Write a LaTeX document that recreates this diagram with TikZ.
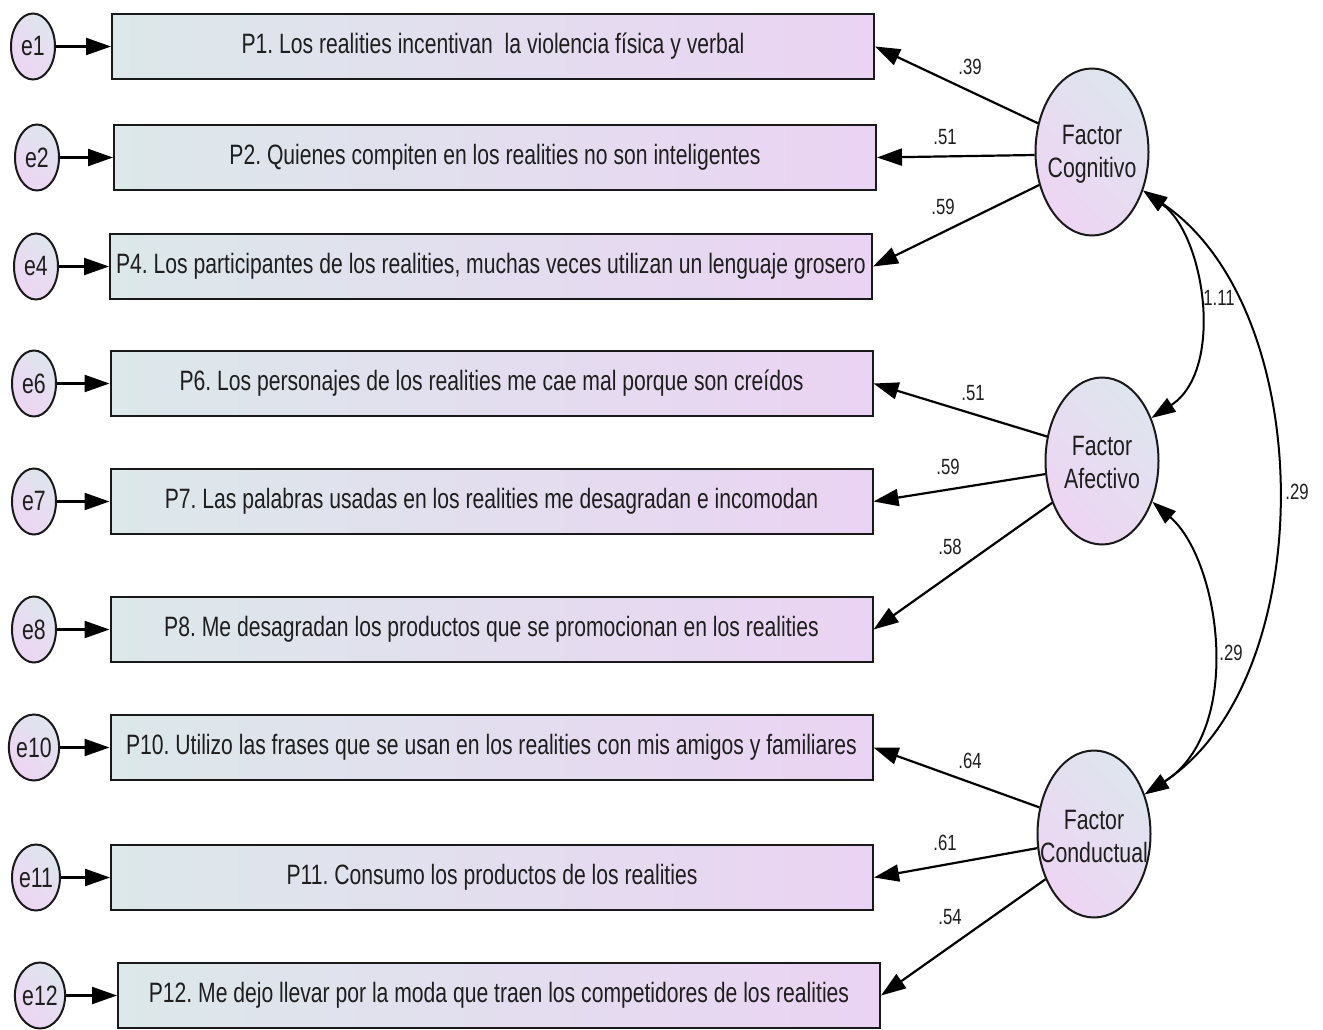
\documentclass[tikz,border=0pt]{standalone}
\usepackage{fontspec}
\setmainfont{Liberation Sans}
\usetikzlibrary{shapes.geometric,arrows.meta}
\definecolor{boxL}{HTML}{DCE8EA}
\definecolor{boxR}{HTML}{EAD3F3}
\definecolor{ellL}{HTML}{DFE5EE}
\definecolor{ellR}{HTML}{EDD5F3}
\definecolor{txt}{HTML}{1E1E1E}
\frenchspacing
\newcommand\nx[1]{\scalebox{0.76}[1]{#1}}
\newcommand\bx[1]{\raisebox{-2.5pt}{\scalebox{0.755}[1]{#1}}}
\begin{document}
\begin{tikzpicture}[x=1pt,y=-1pt,
  itembox/.style={draw=black!90, line width=2pt, left color=boxL, right color=boxR,
    minimum width=762pt, minimum height=65pt, inner sep=0pt, text=txt,
    font=\fontsize{28}{32}\selectfont},
  errnode/.style={ellipse, draw=black!90, line width=2pt, shading=axis, top color=ellL, bottom color=ellR,
    shading angle=-45, minimum width=44pt, minimum height=66pt, inner sep=0pt, text=txt,
    font=\fontsize{28}{30}\selectfont},
  factor/.style={ellipse, draw=black!90, line width=2pt, shading=axis, top color=ellL, bottom color=ellR,
    shading angle=-45, minimum width=113pt, minimum height=167pt, inner sep=0pt},
  factortext/.style={text=txt, align=center, inner sep=0pt, font=\fontsize{28}{33}\selectfont},
  coef/.style={text=txt, inner sep=0pt, font=\fontsize{22}{24}\selectfont},
  arr/.style={line width=2.2pt, -{Triangle[length=25pt,width=17pt]}},
  cov/.style={line width=2pt, {Triangle[length=24pt,width=16pt]}-{Triangle[length=24pt,width=16pt]}}
]
\useasboundingbox (0,0) rectangle (1323,1030);

% items
\node[itembox] (P1) at (493,46.5) {\bx{P1. Los realities incentivan\ \ la violencia física y verbal}};
\node[itembox] (P2) at (495,157.5) {\bx{P2. Quienes compiten en los realities no son inteligentes}};
\node[itembox] (P4) at (491,266.5) {\bx{P4. Los participantes de los realities, muchas veces utilizan un lenguaje grosero}};
\node[itembox] (P6) at (491.5,383.5) {\bx{P6. Los personajes de los realities me cae mal porque son creídos}};
\node[itembox] (P7) at (491.5,501.5) {\bx{P7. Las palabras usadas en los realities me desagradan e incomodan}};
\node[itembox] (P8) at (491.5,629.5) {\bx{P8. Me desagradan los productos que se promocionan en los realities}};
\node[itembox] (P10) at (491.5,747.5) {\bx{P10. Utilizo las frases que se usan en los realities con mis amigos y familiares}};
\node[itembox] (P11) at (492,877.5) {\bx{P11. Consumo los productos de los realities}};
\node[itembox] (P12) at (499,995.5) {\bx{P12. Me dejo llevar por la moda que traen los competidores de los realities}};

% errors
\node[errnode] (e1) at (33,46.5) {\nx{e1}};
\node[errnode] (e2) at (37,157.5) {\nx{e2}};
\node[errnode] (e4) at (36,266.5) {\nx{e4}};
\node[errnode] (e6) at (34,383.5) {\nx{e6}};
\node[errnode] (e7) at (34,501.5) {\nx{e7}};
\node[errnode] (e8) at (34,629.5) {\nx{e8}};
\node[errnode] (e10) at (34,747.5) {\nx{e10}};
\node[errnode] (e11) at (36,877.5) {\nx{e11}};
\node[errnode] (e12) at (40,995.5) {\nx{e12}};

\foreach \i in {1,2,4,6,7,8,10,11,12}{
  \draw[arr] (e\i.east) -- (P\i.west);
}

% factors
\node[factor] (Cog) at (1092,152) {};
\node[factor] (Aff) at (1102,461) {};
\node[factor] (Con) at (1094,834) {};
\node[factortext] (CogT) at (1092,154) {\nx{Factor}\\\nx{Cognitivo}};
\node[factortext] (AffT) at (1102,463) {\nx{Factor}\\\nx{Afectivo}};
\node[factortext] (ConT) at (1094,836) {\nx{Factor}\\\nx{Conductual}};

% loadings
\draw[arr] (Cog.152) -- (P1.east);
\draw[arr] (Cog.183) -- (P2.east);
\draw[arr] (Cog.212) -- (P4.east);
\draw[arr] (Aff.156) -- (P6.east);
\draw[arr] (Aff.193) -- (P7.east);
\draw[arr] (Aff.220) -- (P8.east);
\draw[arr] (Con.154) -- (P10.east);
\draw[arr] (Con.194) -- (P11.east);
\draw[arr] (Con.223) -- (P12.east);

% covariances
\draw[cov] (Cog.-37) .. controls (1205,235) and (1225,370) .. (Aff.41);
\draw[cov] (Aff.-39) .. controls (1220,560) and (1245,730) .. (Con.38);
\draw[cov] (Cog.-37) .. controls (1320,310) and (1320,680) .. (Con.38);

% coefficients
\node[coef] (c1) at (970,67) {\nx{.39}};
\node[coef] (c2) at (945,137) {\nx{.51}};
\node[coef] (c4) at (943,207) {\nx{.59}};
\node[coef] (c6) at (973,393) {\nx{.51}};
\node[coef] (c7) at (948,467) {\nx{.59}};
\node[coef] (c8) at (950,547) {\nx{.58}};
\node[coef] (c10) at (970,761) {\nx{.64}};
\node[coef] (c11) at (945,843) {\nx{.61}};
\node[coef] (c12) at (950,917) {\nx{.54}};
\node[coef] (r1) at (1219,298) {\nx{1.11}};
\node[coef] (r2) at (1231,653) {\nx{.29}};
\node[coef] (r3) at (1297,492) {\nx{.29}};
\end{tikzpicture}
\end{document}
